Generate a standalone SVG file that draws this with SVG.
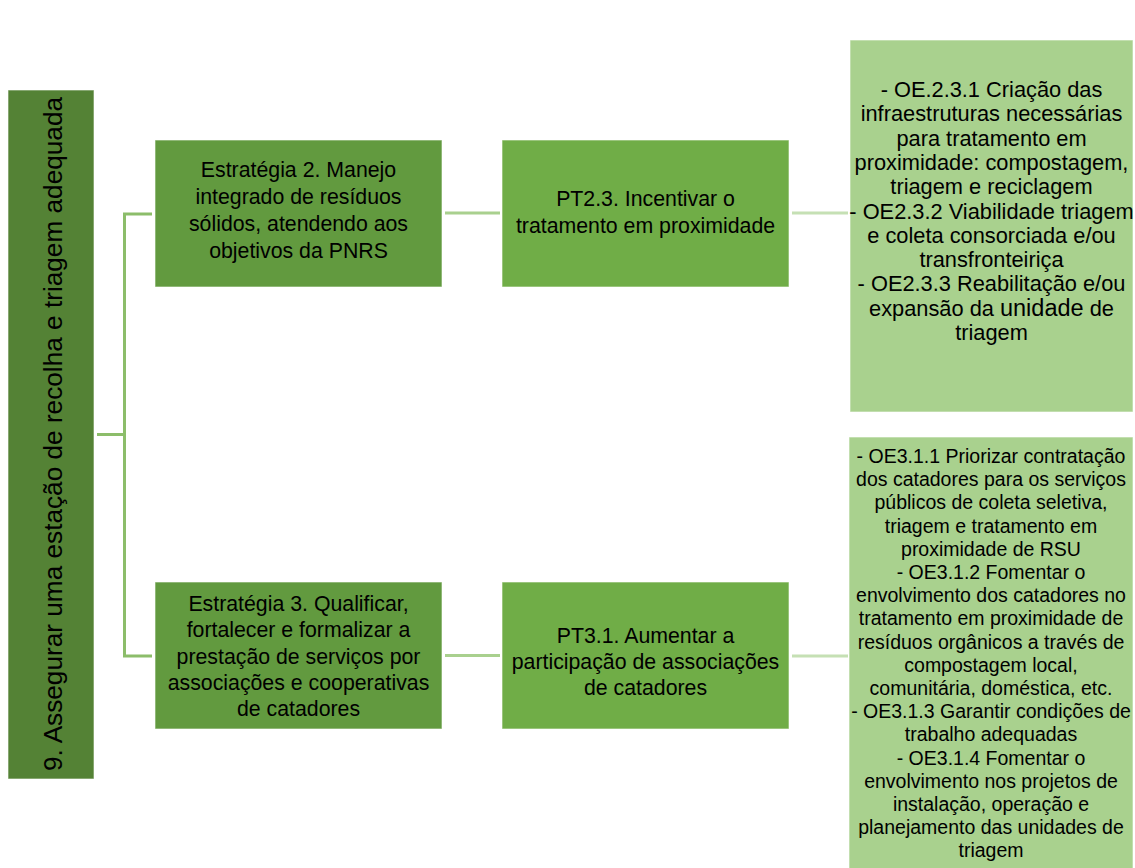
<svg xmlns="http://www.w3.org/2000/svg" width="1135" height="868" viewBox="0 0 1135 868">
  <style>
    text { font-family: "Liberation Sans", Arial, sans-serif; fill: #000000; text-anchor: middle; }
    .box { stroke: #ffffff; stroke-opacity: 0.6; stroke-width: 1; }
    .goal { fill: #548235; }
    .strat { fill: #629A3F; }
    .pt { fill: #70AD47; }
    .oe { fill: #A9D18E; }
    .t-goal { font-size: 26.2px; }
    .t-box { font-size: 21.3px; }
    .t-oe1 { font-size: 21.8px; }
    .t-oe2 { font-size: 19.5px; }
    .c-left { stroke: #8CBD6A; stroke-width: 3; fill: none; }
    .c-mid { stroke: #A9D08E; stroke-width: 3; fill: none; }
    .c-right { stroke: #C5E0B4; stroke-width: 3; fill: none; }
  </style>

  <rect width="1135" height="868" fill="#ffffff"/>

  <!-- connectors -->
  <g id="connectors">
    <path class="c-left" d="M97 434.5 H124.5 M124.5 214 V656 M123 214 H152 M123 656 H152"/>
    <path class="c-mid" d="M445 213 H500 M445 655.5 H500"/>
    <path class="c-right" d="M792 213 H848 M792 656 H848"/>
  </g>

  <!-- goal -->
  <g id="goal">
    <rect class="box goal" x="8" y="90" width="86" height="689"/>
    <text class="t-goal" transform="translate(62,434) rotate(-90)">9. Assegurar uma estação de recolha e triagem adequada</text>
  </g>

  <!-- strategies -->
  <g id="strategy2">
    <rect class="box strat" x="155" y="140" width="287" height="147"/>
    <text class="t-box" x="298.5" y="177">Estratégia 2. Manejo</text>
    <text class="t-box" x="298.5" y="204">integrado de resíduos</text>
    <text class="t-box" x="298.5" y="231">sólidos, atendendo aos</text>
    <text class="t-box" x="298.5" y="258">objetivos da PNRS</text>
  </g>

  <g id="strategy3">
    <rect class="box strat" x="155" y="582" width="287" height="147"/>
    <text class="t-box" x="298.5" y="611">Estratégia 3. Qualificar,</text>
    <text class="t-box" x="298.5" y="637">fortalecer e formalizar a</text>
    <text class="t-box" x="298.5" y="664">prestação de serviços por</text>
    <text class="t-box" x="298.5" y="690">associações e cooperativas</text>
    <text class="t-box" x="298.5" y="716">de catadores</text>
  </g>

  <!-- programmes -->
  <g id="pt23">
    <rect class="box pt" x="502" y="140" width="287" height="147"/>
    <text class="t-box" x="645.5" y="206">PT2.3. Incentivar o</text>
    <text class="t-box" x="645.5" y="233">tratamento em proximidade</text>
  </g>

  <g id="pt31">
    <rect class="box pt" x="502" y="582" width="287" height="147"/>
    <text class="t-box" x="645.5" y="643">PT3.1. Aumentar a</text>
    <text class="t-box" x="645.5" y="669">participação de associações</text>
    <text class="t-box" x="645.5" y="695">de catadores</text>
  </g>

  <!-- specific objectives -->
  <g id="oe23">
    <rect class="box oe" x="850" y="40" width="283" height="372"/>
    <text class="t-oe1" x="991.5" y="97">- OE.2.3.1 Criação das</text>
    <text class="t-oe1" x="991.5" y="121.3">infraestruturas necessárias</text>
    <text class="t-oe1" x="991.5" y="145.6">para tratamento em</text>
    <text class="t-oe1" x="991.5" y="169.9">proximidade: compostagem,</text>
    <text class="t-oe1" x="991.5" y="194.2">triagem e reciclagem</text>
    <text class="t-oe1" x="991.5" y="218.5">- OE2.3.2 Viabilidade triagem</text>
    <text class="t-oe1" x="991.5" y="242.8">e coleta consorciada e/ou</text>
    <text class="t-oe1" x="991.5" y="267.1">transfronteiriça</text>
    <text class="t-oe1" x="991.5" y="291.4">- OE2.3.3 Reabilitação e/ou</text>
    <text class="t-oe1" x="991.5" y="315.7">expansão da <tspan font-size="23.5px">unidade</tspan> de</text>
    <text class="t-oe1" x="991.5" y="340">triagem</text>
  </g>

  <g id="oe31">
    <rect class="box oe" x="849" y="437" width="284" height="440"/>
    <text class="t-oe2" x="991" y="463">- OE3.1.1 Priorizar contratação</text>
    <text class="t-oe2" x="991" y="486.2">dos catadores para os serviços</text>
    <text class="t-oe2" x="991" y="509.4">públicos de coleta seletiva,</text>
    <text class="t-oe2" x="991" y="532.6">triagem e tratamento em</text>
    <text class="t-oe2" x="991" y="555.8">proximidade de RSU</text>
    <text class="t-oe2" x="991" y="579">- OE3.1.2 Fomentar o</text>
    <text class="t-oe2" x="991" y="602.2">envolvimento dos catadores no</text>
    <text class="t-oe2" x="991" y="625.4">tratamento em proximidade de</text>
    <text class="t-oe2" x="991" y="648.6">resíduos orgânicos a través de</text>
    <text class="t-oe2" x="991" y="671.8">compostagem local,</text>
    <text class="t-oe2" x="991" y="695">comunitária, doméstica, etc.</text>
    <text class="t-oe2" x="991" y="718.2">- OE3.1.3 Garantir condições de</text>
    <text class="t-oe2" x="991" y="741.4">trabalho adequadas</text>
    <text class="t-oe2" x="991" y="764.6">- OE3.1.4 Fomentar o</text>
    <text class="t-oe2" x="991" y="787.8">envolvimento nos projetos de</text>
    <text class="t-oe2" x="991" y="811">instalação, operação e</text>
    <text class="t-oe2" x="991" y="834.2">planejamento das unidades de</text>
    <text class="t-oe2" x="991" y="857.4">triagem</text>
  </g>
</svg>
